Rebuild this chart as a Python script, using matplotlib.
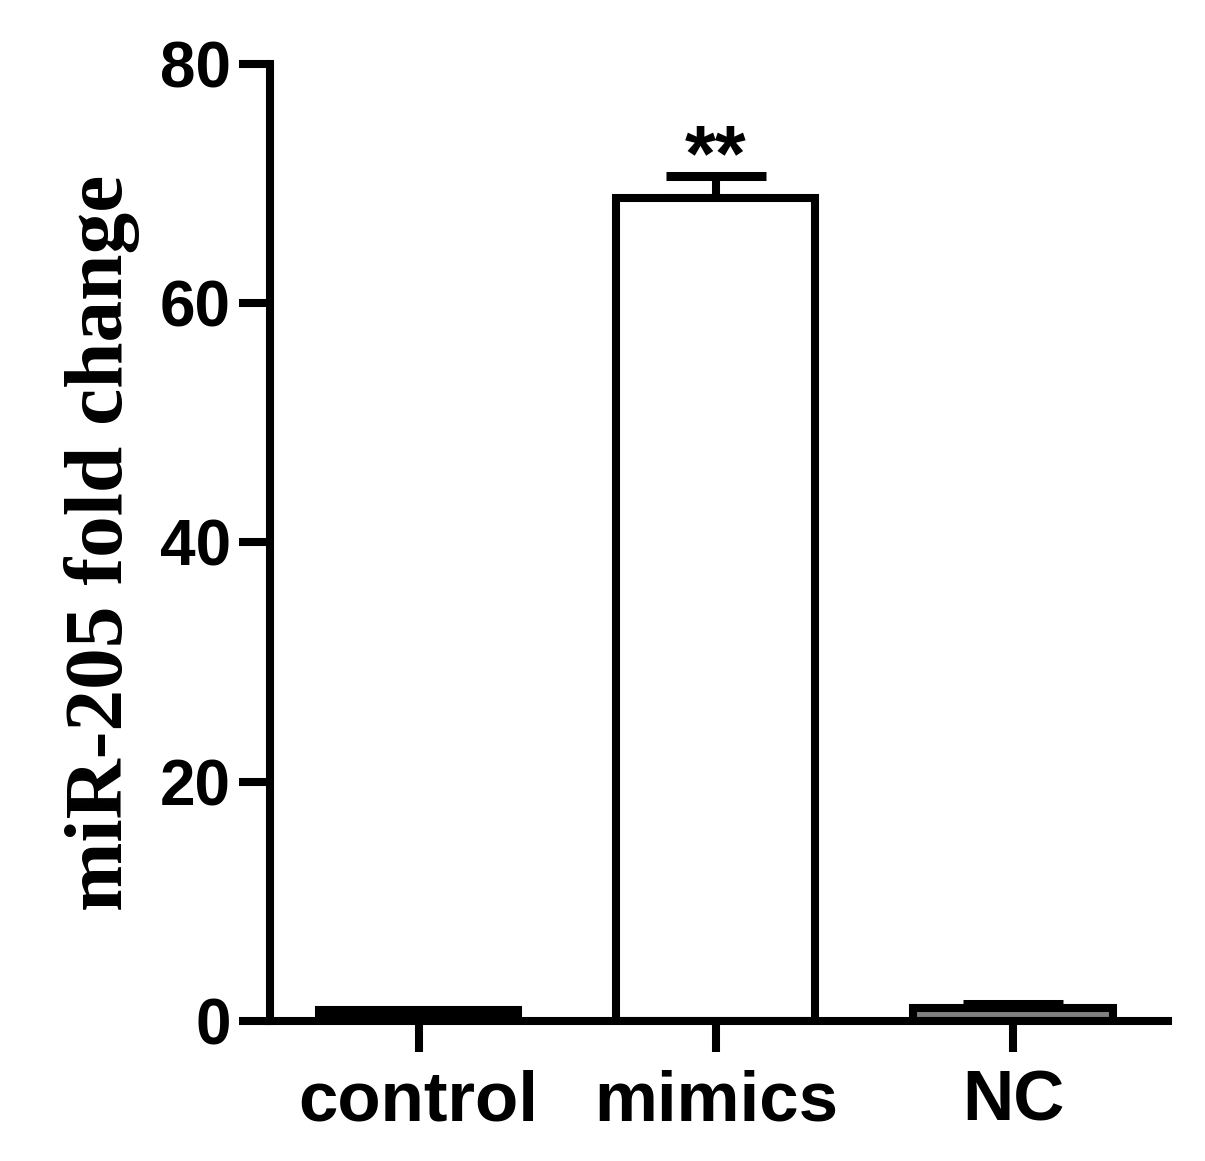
import matplotlib
matplotlib.use("Agg")
import matplotlib.pyplot as plt

categories = ["control", "mimics", "NC"]
values = [0.9, 68.8, 1.1]
errors_up = [0.0, 1.8, 0.3]
fills = ["black", "white", "#808080"]
yticks = [0, 20, 40, 60, 80]

fig = plt.figure(figsize=(12.05, 11.61), dpi=100)
ax = fig.add_axes([0.224, 0.1206, 0.745, 0.8243])

x = list(range(len(categories)))
ax.bar(x, values, width=0.67, color=fills, edgecolor="black", linewidth=5.8, zorder=2)
ax.errorbar(x[1:], values[1:], yerr=[[0, 0], errors_up[1:]], fmt="none",
            ecolor="black", elinewidth=5.8, capsize=36, capthick=6.5, zorder=1)
ax.text(1, 70.3, "**", ha="center", va="baseline", fontsize=57, fontweight="bold",
        family="Liberation Sans")

ax.set_xlim(-0.5, 2.52)
ax.set_ylim(0, 80)
ax.set_yticks(yticks)
ax.set_xticks(x)
ax.set_xticklabels(categories)
for s in ["top", "right"]:
    ax.spines[s].set_visible(False)
for s in ["left", "bottom"]:
    ax.spines[s].set_linewidth(5.8)
ax.tick_params(axis="both", length=22, width=5.8, pad=6)
ax.tick_params(axis="x", pad=13)
for lab in ax.get_yticklabels():
    lab.set_fontfamily("Liberation Sans")
    lab.set_fontweight("bold")
    lab.set_fontsize(46)
for lab in ax.get_xticklabels():
    lab.set_fontfamily("Liberation Sans")
    lab.set_fontweight("bold")
    lab.set_fontsize(51)
ax.set_ylabel("miR-205 fold change", fontsize=60, fontweight="bold",
              family="Liberation Serif", labelpad=14)

fig.savefig("out.png", dpi=100)
